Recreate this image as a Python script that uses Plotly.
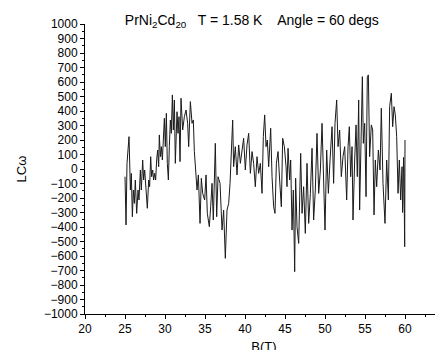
import plotly.graph_objects as go

B = [25.0, 25.13, 25.25, 25.38, 25.5, 25.58, 25.67, 25.79, 25.92, 26.04, 26.17, 26.29, 26.46, 26.63, 26.75,
     26.92, 27.04, 27.21, 27.33, 27.46, 27.63, 27.79, 27.96, 28.08, 28.21, 28.33, 28.46, 28.58, 28.71, 28.83,
     28.96, 29.08, 29.21, 29.29, 29.42, 29.54, 29.67, 29.79, 29.92, 30.04, 30.17, 30.29, 30.42, 30.54, 30.67,
     30.79, 30.92, 31.04, 31.17, 31.29, 31.42, 31.5, 31.63, 31.75, 31.88, 32.0, 32.21, 32.42, 32.63, 32.83,
     32.96, 33.17, 33.38, 33.54, 33.67, 33.88, 34.0, 34.17, 34.38, 34.54, 34.71, 34.96, 35.13, 35.29, 35.54,
     35.71, 35.88, 36.04, 36.29, 36.46, 36.63, 36.88, 37.13, 37.33, 37.54, 37.75, 37.96, 38.13, 38.29, 38.46,
     38.58, 38.79, 39.0, 39.21, 39.42, 39.63, 39.83, 40.04, 40.25, 40.46, 40.67, 40.88, 41.08, 41.29, 41.5,
     41.71, 41.92, 42.13, 42.29, 42.46, 42.63, 42.79, 42.96, 43.21, 43.38, 43.58, 43.75, 43.92, 44.13, 44.33,
     44.54, 44.71, 44.92, 45.13, 45.25, 45.38, 45.58, 45.71, 45.88, 46.04, 46.21, 46.33, 46.5, 46.71, 46.96,
     47.13, 47.33, 47.54, 47.75, 47.96, 48.17, 48.38, 48.58, 48.79, 49.0, 49.21, 49.42, 49.63, 49.83, 50.0,
     50.21, 50.42, 50.63, 50.88, 51.08, 51.25, 51.46, 51.63, 51.83, 52.04, 52.25, 52.46, 52.71, 52.88, 53.04,
     53.21, 53.38, 53.5, 53.71, 53.88, 54.04, 54.21, 54.33, 54.5, 54.67, 54.79, 54.96, 55.13, 55.29, 55.42,
     55.58, 55.79, 55.96, 56.13, 56.29, 56.46, 56.67, 56.88, 57.04, 57.25, 57.5, 57.71, 57.92, 58.08, 58.29,
     58.46, 58.63, 58.79, 58.96, 59.13, 59.29, 59.46, 59.55, 59.63, 59.7, 59.75, 59.82, 59.88, 59.93, 59.96, 60.0]

LC = [-53, -386, 39, 154, 223, 62, -145, -30, -329, -145, -237, -76, -306, -145, -214,
      -7, -145, 62, -76, -7, -168, -271, -76, -122, 85, -53, -7, -76, -30, -76,
      62, 131, 16, 235, 85, 154, 62, 223, 350, 154, 384, 39, -76, 154, 338,
      246, 511, 269, 476, 39, 292, 395, 246, 361, 51, 488, 269, 361, 407, 315,
      154, 465, 315, 338, 120, -53, -145, -41, -375, -64, -168, -214, -41, -306, -398,
      -260, -99, -352, 177, -329, -53, -99, -421, -283, -616, -283, -237, -99, 85, 338,
      16, 154, -41, 166, 39, 131, 212, -7, 166, 246, -30, 120, 39, -122, 85,
      -30, 39, -168, 223, 373, 154, 200, 16, 281, -53, -260, -306, 39, 120, -76,
      -260, 212, 154, 16, -122, 143, -76, 62, -421, -145, -708, -64, -398, -513, 108,
      -306, -122, -444, 39, -375, -168, 143, -352, -145, 246, -168, -7, 315, -76, -421,
      131, -168, 62, 292, -99, 315, 476, 154, 269, -53, 85, 154, -214, 154, 292,
      -53, 154, -352, 62, 304, -53, 476, -283, 154, 637, 177, 315, -191, 637, 649,
      85, 304, 269, -317, 62, -122, 131, -7, 419, -99, -375, 62, -214, 430, 522,
      292, 430, 373, 223, -168, 62, -214, -60, 16, -300, -237, 80, -30, -380, -536, 200]

fig = go.Figure()
fig.add_trace(go.Scatter(x=B, y=LC, mode="lines",
                         line=dict(color="#1a1a1a", width=1), showlegend=False))

font = "Liberation Sans, Arial, sans-serif"
fig.update_layout(
    width=443, height=350,
    margin=dict(l=77, r=8, t=16, b=44),
    paper_bgcolor="white", plot_bgcolor="white",
    font=dict(family=font, size=12, color="black"),
    title=dict(text="PrNi<sub>2</sub>Cd<sub>20</sub>   T = 1.58 K    Angle = 60 degs",
               x=0.466, xref="paper", xanchor="center",
               y=0.966, yref="container", yanchor="middle",
               font=dict(family=font, size=14, color="black")),
)
fig.update_xaxes(
    range=[20, 64.75], tickmode="linear", tick0=20, dtick=5,
    showgrid=False, zeroline=False, showline=True, linecolor="black", linewidth=1,
    ticks="outside", ticklen=4, tickcolor="black", tickwidth=1,
    minor=dict(ticks="outside", ticklen=2, dtick=2.5, tick0=20, tickcolor="black", showgrid=False),
    tickfont=dict(size=12, family=font, color="black"),
    title=dict(text="B(T)", standoff=6, font=dict(size=13, family=font, color="black")),
    automargin=False,
)
fig.update_yaxes(
    range=[-1000, 1000], tickmode="linear", tick0=-1000, dtick=100,
    showgrid=False, zeroline=False, showline=True, linecolor="black", linewidth=1,
    ticks="outside", ticklen=4, tickcolor="black", tickwidth=1,
    minor=dict(ticks="outside", ticklen=2, dtick=50, tick0=-1000, tickcolor="black", showgrid=False),
    tickfont=dict(size=12, family=font, color="black"),
    title=dict(text="LCω", standoff=14, font=dict(size=13, family=font, color="black")),
    automargin=False,
)
fig.add_annotation(text="65", x=(65 - 20) / (64.75 - 20), xref="paper", y=0, yref="paper",
                   yshift=-6, yanchor="top", xanchor="center", showarrow=False,
                   font=dict(size=12, family=font, color="black"))

fig.write_html("out.html")
